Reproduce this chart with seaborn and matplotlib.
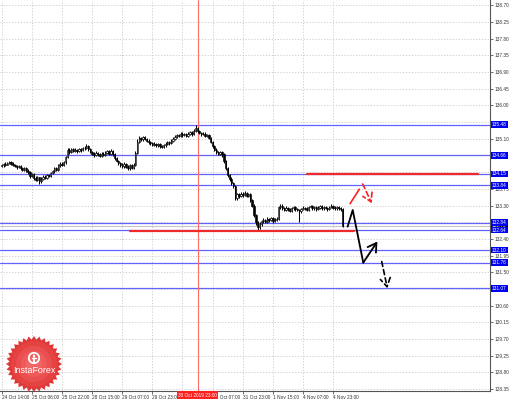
import numpy as np
import matplotlib
matplotlib.use("Agg")
import matplotlib.pyplot as plt
import matplotlib.transforms as mtransforms
from matplotlib.patches import Polygon, Circle
import seaborn as sns

# ---------------- data ----------------
first_open = 134.36
closes = [
    134.38, 134.42, 134.40, 134.44, 134.47, 134.43, 134.40,
    134.36, 134.33, 134.36, 134.30, 134.27, 134.31, 134.24,
    134.20, 134.10, 134.15, 134.05, 134.00, 134.06, 133.96, 134.02,
    134.08, 134.05, 134.12, 134.10, 134.18, 134.22,
    134.30, 134.26, 134.38, 134.42, 134.40, 134.46,
    134.60, 134.80,
    134.75, 134.82, 134.78, 134.80, 134.76, 134.82, 134.79, 134.84, 134.86, 134.90, 134.82,
    134.75, 134.70, 134.66, 134.72, 134.68, 134.64, 134.70, 134.67,
    134.72, 134.76, 134.70, 134.78, 134.68,
    134.58, 134.50, 134.44, 134.40,
    134.36, 134.42, 134.34, 134.30, 134.38, 134.32, 134.40,
    134.72,
    135.02, 135.12, 135.08, 135.14, 135.10, 135.05, 135.00,
    134.98, 134.94, 134.96, 134.92, 134.95, 134.90, 134.88, 134.92, 134.96,
    135.00, 134.98, 135.04, 135.10, 135.16,
    135.20, 135.18, 135.24, 135.20, 135.22, 135.18, 135.24, 135.28, 135.22,
    135.32, 135.40,
    135.30, 135.26, 135.22, 135.24, 135.18, 135.20, 135.12,
    135.02, 134.90, 134.80, 134.74,
    134.70, 134.74, 134.68,
    134.50, 134.30, 134.12, 134.02,
    133.90, 133.82,
    133.50, 133.60, 133.55, 133.62, 133.58, 133.64, 133.56, 133.60,
    133.45, 133.30, 133.05,
    132.85, 132.72, 132.80,
    132.88, 132.92, 132.86, 132.94, 132.90, 132.96, 132.88, 132.92, 132.95,
    133.25, 133.30,
    133.22, 133.18, 133.24, 133.20, 133.16, 133.22, 133.26, 133.20, 133.18, 133.14,
    133.20, 133.24, 133.22, 133.18, 133.25, 133.28, 133.22, 133.26, 133.20, 133.24,
    133.28, 133.22, 133.26, 133.24, 133.20, 133.26, 133.28, 133.24, 133.22, 133.26,
    133.22, 133.20, 132.76,
]
highs = [
    134.42, 134.45, 134.46, 134.48, 134.50, 134.49, 134.46,
    134.43, 134.39, 134.39, 134.38, 134.33, 134.35, 134.34,
    134.28, 134.23, 134.19, 134.18, 134.09, 134.10, 134.08, 134.06,
    134.12, 134.12, 134.15, 134.16, 134.21, 134.26,
    134.33, 134.34, 134.41, 134.47, 134.46, 134.50,
    134.64, 134.86,
    134.84, 134.86, 134.85, 134.84, 134.83, 134.86, 134.85, 134.88, 134.90, 134.95, 134.93,
    134.85, 134.78, 134.74, 134.76, 134.75, 134.71, 134.74, 134.73,
    134.76, 134.81, 134.79, 134.82, 134.80,
    134.71, 134.61, 134.53, 134.48,
    134.44, 134.46, 134.45, 134.38, 134.41, 134.42, 134.44,
    134.76,
    135.08, 135.18, 135.16, 135.18, 135.17, 135.13, 135.08,
    135.03, 135.01, 135.00, 134.99, 134.98, 134.98, 134.93, 134.96, 135.00,
    135.04, 135.03, 135.08, 135.14, 135.20,
    135.24, 135.24, 135.27, 135.27, 135.26, 135.25, 135.28, 135.32, 135.31,
    135.36, 135.46,
    135.42, 135.33, 135.29, 135.28, 135.27, 135.24, 135.23,
    135.15, 135.05, 134.93, 134.84,
    134.78, 134.78, 134.77,
    134.71, 134.53, 134.34, 134.16,
    134.06, 133.94,
    133.85, 133.65, 133.64, 133.67, 133.66, 133.69, 133.67, 133.64,
    133.63, 133.48, 133.33,
    133.08, 132.88, 132.85,
    132.92, 132.97, 132.95, 132.98, 132.97, 133.00, 132.99, 132.96, 132.99,
    133.30, 133.35,
    133.33, 133.26, 133.28, 133.27, 133.23, 133.26, 133.30, 133.29, 133.23, 133.21,
    133.24, 133.28, 133.27, 133.25, 133.29, 133.32, 133.31, 133.30, 133.29, 133.28,
    133.32, 133.31, 133.30, 133.29, 133.27, 133.30, 133.33, 133.31, 133.28, 133.30,
    133.29, 133.25, 133.22,
]
lows = [
    134.33, 134.35, 134.37, 134.38, 134.41, 134.40, 134.36,
    134.33, 134.29, 134.30, 134.26, 134.22, 134.24, 134.20,
    134.15, 134.05, 134.06, 134.00, 133.95, 133.97, 133.88, 133.92,
    133.99, 134.01, 134.02, 134.06, 134.07, 134.14,
    134.19, 134.22, 134.23, 134.35, 134.36, 134.37,
    134.43, 134.57,
    134.70, 134.72, 134.74, 134.74, 134.72, 134.73, 134.75, 134.76, 134.80, 134.83, 134.78,
    134.71, 134.66, 134.62, 134.63, 134.64, 134.60, 134.61, 134.63,
    134.64, 134.69, 134.66, 134.67, 134.64,
    134.54, 134.46, 134.39, 134.35,
    134.31, 134.32, 134.30, 134.26, 134.27, 134.28, 134.29,
    134.37,
    134.69, 134.98, 135.04, 135.05, 135.06, 135.01, 134.96,
    134.94, 134.90, 134.91, 134.88, 134.89, 134.86, 134.84, 134.85, 134.89,
    134.93, 134.94, 134.95, 135.01, 135.07,
    135.13, 135.14, 135.15, 135.16, 135.17, 135.14, 135.15, 135.21, 135.18,
    135.19, 135.28,
    135.26, 135.22, 135.18, 135.19, 135.14, 135.15, 135.08,
    134.98, 134.86, 134.76, 134.70,
    134.65, 134.66, 134.62,
    134.44, 134.25, 134.06, 133.97,
    133.84, 133.76,
    133.44, 133.46, 133.50, 133.52, 133.54, 133.55, 133.52, 133.52,
    133.40, 133.25, 132.98,
    132.78, 132.62, 132.66,
    132.76, 132.84, 132.82, 132.83, 132.86, 132.87, 132.84, 132.85, 132.88,
    132.92, 133.21,
    133.18, 133.14, 133.15, 133.16, 133.12, 133.13, 133.19, 133.16, 133.14, 132.86,
    133.11, 133.17, 133.18, 133.14, 133.15, 133.22, 133.18, 133.19, 133.16, 133.17,
    133.21, 133.18, 133.19, 133.20, 133.16, 133.17, 133.23, 133.20, 133.18, 133.19,
    133.18, 133.16, 132.72,
]
x_tick_labels = ["24 Oct 14:00", "25 Oct 06:00", "25 Oct 22:00", "28 Oct 15:00",
                 "29 Oct 07:00", "29 Oct 23:00", "30 Oct 15:00", "31 Oct 07:00",
                 "31 Oct 23:00", "1 Nov 15:00", "4 Nov 07:00", "4 Nov 23:00"]
y_tick_values = [138.70, 138.25, 137.80, 137.35, 136.90, 136.45, 136.00, 135.55,
                 135.10, 134.65, 134.20, 133.75, 133.30, 132.85, 132.40, 131.95,
                 131.50, 131.05, 130.60, 130.15, 129.70, 129.25, 128.80, 128.35]
blue_levels = [135.48, 134.66, 134.15, 133.84, 132.84, 132.64, 132.10, 131.76, 131.07]
current_price = 132.75
marker_label = "30 Oct 2019 23:00"
marker_bar = 104
support_level = 132.60
support_span = (68, 187)
resistance_level = 134.15
resistance_span = (162, 253)
# forecast drawing (bar index, price)
black_path_x = [183.7, 186.4, 192.0, 199.5]
black_path_y = [132.73, 133.18, 131.76, 132.33]
black_dash_x = [201.8, 204.8]
black_dash_y = [131.79, 131.07]
red_path_x = [185.0, 189.9]
red_path_y = [133.35, 133.74]
red_dash_x = [191.7, 196.5]
red_dash_y = [133.88, 133.36]

# ---------------- figure ----------------
sns.set_theme(style="white")
plt.rcParams['font.family'] = ['Liberation Sans', 'DejaVu Sans']
FS = 3.4
fig = plt.figure(figsize=(5.1, 4.0), dpi=100)
ax = fig.add_axes([0.0, 9 / 400, 490 / 510, 391 / 400])

n = len(closes)
idx = np.arange(n)
opens = np.array([first_open] + closes[:-1])
c = np.array(closes)
up = c >= opens

# grid
for k in range(len(x_tick_labels)):
    ax.axvline(16 * k, color="#c8c8c8", lw=0.6, ls=(0, (1.5, 2)), zorder=0)
for v in y_tick_values:
    ax.axhline(v, color="#c8c8c8", lw=0.6, ls=(0, (1.5, 2)), zorder=0)

# levels
for lv in blue_levels:
    ax.axhline(lv, color="#6262ff", lw=0.9, zorder=1)
ax.axhline(current_price, color="#c4c4c4", lw=0.8, zorder=1)
ax.axvline(marker_bar, color="#ff6a6a", lw=0.8, zorder=1)

# candles
ax.vlines(idx, lows, highs, color="black", lw=0.75, zorder=3)
body_low = np.minimum(opens, c)
body_h = np.maximum(np.abs(c - opens), 0.008)
ax.bar(idx, body_h, bottom=body_low, width=0.7,
       color=np.where(up, "white", "black"), edgecolor="black", linewidth=0.45, zorder=4)

# red horizontal lines
ax.plot(support_span, [support_level] * 2, color="#ee2a2a", lw=1.6, zorder=5)
ax.plot(resistance_span, [resistance_level] * 2, color="#ee2a2a", lw=1.6, zorder=5)

# forecast arrows
sns.lineplot(x=black_path_x[:-1], y=black_path_y[:-1], ax=ax, color="black", lw=1.3,
             sort=False, estimator=None, zorder=6)
ax.annotate("", xy=(black_path_x[-1], black_path_y[-1]), xytext=(black_path_x[-2], black_path_y[-2]),
            arrowprops=dict(arrowstyle="->,head_length=0.5,head_width=0.3", color="black", lw=1.3,
                            shrinkA=0, shrinkB=0), zorder=6)
ax.annotate("", xy=(black_dash_x[1], black_dash_y[1]), xytext=(black_dash_x[0], black_dash_y[0]),
            arrowprops=dict(arrowstyle="->,head_length=0.5,head_width=0.3", color="black", lw=1.2,
                            ls=(0, (3, 2)), shrinkA=0, shrinkB=0), zorder=6)
sns.lineplot(x=red_path_x, y=red_path_y, ax=ax, color="#ff2020", lw=1.2,
             sort=False, estimator=None, zorder=6)
ax.annotate("", xy=(red_dash_x[1], red_dash_y[1]), xytext=(red_dash_x[0], red_dash_y[0]),
            arrowprops=dict(arrowstyle="->,head_length=0.5,head_width=0.3", color="#ff2020", lw=1.2,
                            ls=(0, (3, 2)), shrinkA=0, shrinkB=0), zorder=6)

# axes
ax.set_xlim(-0.9, 259.3)
ax.set_ylim(128.30, 138.84)
ax.yaxis.tick_right()
ax.set_yticks(y_tick_values)
# labels that sit fully under a level box are hidden, as on the reference
shown_y = [("" if min(abs(v - lv) for lv in blue_levels) < 0.08 else f"{v:.2f}")
           for v in y_tick_values]
ax.set_yticklabels(shown_y)
ax.set_xticks([16 * k for k in range(len(x_tick_labels))])
ax.set_xticklabels(["" if 0 < marker_bar - 16 * k < 10 else lab
                    for k, lab in enumerate(x_tick_labels)], ha="left")
ax.tick_params(axis="y", labelsize=FS, length=2, width=0.5, pad=1.0, colors="#333333",
               right=True, left=False)
ax.tick_params(axis="x", labelsize=FS, length=2, width=0.5, pad=1.0, colors="#333333",
               bottom=True)
for s in ["top", "left"]:
    ax.spines[s].set_visible(False)
for s in ["right", "bottom"]:
    ax.spines[s].set_color("#555555")
    ax.spines[s].set_linewidth(0.8)
ax.set_facecolor("white")
fig.patch.set_facecolor("white")

# level boxes on price axis
ytrans = mtransforms.blended_transform_factory(ax.transAxes, ax.transData)
for lv in blue_levels:
    ax.text(1.004, lv, f"{lv:.2f}", transform=ytrans, ha="left", va="center", fontsize=FS,
            color="white", clip_on=False, zorder=10,
            bbox=dict(boxstyle="square,pad=0.2", fc="#0000f0", ec="#0000f0", lw=0))
ax.text(1.004, current_price, f"{current_price:.2f}", transform=ytrans, ha="left", va="center",
        fontsize=FS, color="white", clip_on=False, zorder=9,
        bbox=dict(boxstyle="square,pad=0.2", fc="black", ec="black", lw=0))

# vertical-line date box
xtrans = mtransforms.blended_transform_factory(ax.transData, ax.transAxes)
ax.text(marker_bar, -0.004, marker_label, transform=xtrans, ha="center", va="top", fontsize=FS,
        color="white", clip_on=False, zorder=10,
        bbox=dict(boxstyle="square,pad=0.3", fc="#ff2020", ec="#ff2020", lw=0))

# logo
lax = fig.add_axes([4 / 510, 6 / 400, 60 / 510, 60 / 400])
lax.set_xlim(-30, 30)
lax.set_ylim(-30, 30)
lax.axis("off")
m = 32
ang = np.linspace(0, 2 * np.pi, 2 * m, endpoint=False)
rad = np.where(np.arange(2 * m) % 2 == 0, 28.0, 24.5)
lax.add_patch(Polygon(np.c_[rad * np.cos(ang), rad * np.sin(ang)], closed=True,
                      fc="#e03838", ec="none"))
for rr, col in [(23, "#e54242"), (18, "#ea4e4e"), (13, "#ef5a5a"), (8, "#f36666")]:
    lax.add_patch(Circle((0, 0), rr, fc=col, ec="none"))
lax.add_patch(Circle((0, 6), 5.2, fc="none", ec="white", lw=1.3))
lax.add_patch(Circle((0, 8.2), 1.2, fc="white", ec="none"))
lax.plot([0, 0], [2.5, 6.5], color="white", lw=1.4)
lax.plot([-2.2, 2.2], [6.2, 6.2], color="white", lw=1.0)
lax.text(0, -6.5, "InstaForex", ha="center", va="center", fontsize=6.4, color="white")

fig.savefig("out.png", dpi=100, facecolor="white")
